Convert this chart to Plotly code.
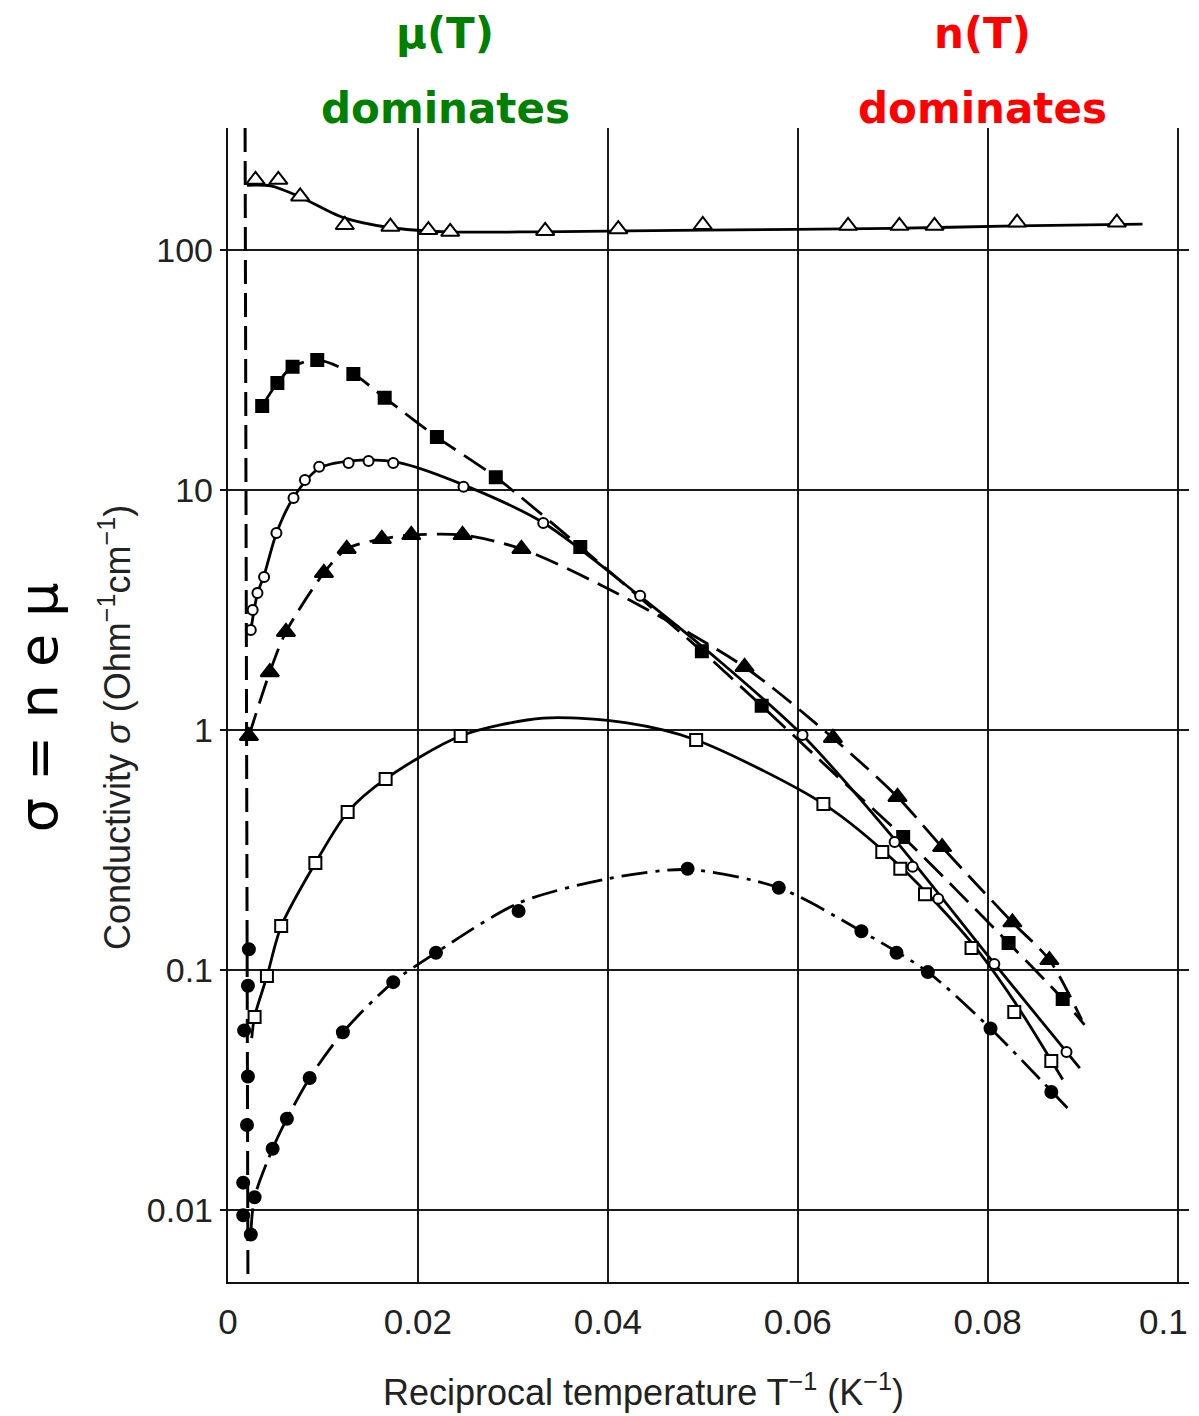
import plotly.graph_objects as go

# ---------------- data ----------------
# x = reciprocal temperature (1/K), y = conductivity (Ohm^-1 cm^-1)

# open triangles (solid line)
tri_open_x = [0.0029, 0.0053, 0.0076, 0.0123, 0.0171, 0.0211, 0.0234, 0.0334, 0.0411, 0.0500, 0.0653, 0.0707, 0.0744, 0.0831, 0.0936]
tri_open_y = [196, 196, 167, 127, 125, 121, 119, 120, 122, 127, 126, 126, 126, 130, 130]
tri_open_cx = [0.0020, 0.0045, 0.0075, 0.0120, 0.0170, 0.0230, 0.0330, 0.0500, 0.0700, 0.0830, 0.0963]
tri_open_cy = [186, 185, 167, 137, 124, 119, 119, 121, 123, 126, 128]

# filled squares (dashed line)
sq_fill_x = [0.0036, 0.0052, 0.0068, 0.0094, 0.0132, 0.0165, 0.0220, 0.0282, 0.0371, 0.0499, 0.0562, 0.0711, 0.0822, 0.0879]
sq_fill_y = [22.4, 27.9, 32.6, 34.8, 30.4, 24.2, 16.6, 11.3, 5.79, 2.13, 1.26, 0.358, 0.1296, 0.0757]
sq_fill_cx = [0.0036, 0.0052, 0.0068, 0.0094, 0.0132, 0.0165, 0.0220, 0.0282, 0.0371, 0.0499, 0.0562, 0.0640, 0.0711, 0.0822, 0.0879, 0.0902]
sq_fill_cy = [22.4, 27.9, 32.6, 34.8, 30.4, 24.2, 16.6, 11.3, 5.79, 2.13, 1.26, 0.65, 0.358, 0.1296, 0.0757, 0.059]

# open circles (solid line)
circ_open_x = [0.0024, 0.0026, 0.0031, 0.0038, 0.0051, 0.0069, 0.0081, 0.0096, 0.0127, 0.0148, 0.0174, 0.0248, 0.0332, 0.0434, 0.0605, 0.0702, 0.0721, 0.0748, 0.0807, 0.0883]
circ_open_y = [2.61, 3.16, 3.72, 4.34, 6.62, 9.26, 11.0, 12.5, 12.96, 13.2, 12.96, 10.3, 7.29, 3.62, 0.953, 0.341, 0.269, 0.198, 0.106, 0.0455]
circ_open_cx = [0.0024, 0.0031, 0.0038, 0.0051, 0.0069, 0.0096, 0.0140, 0.0180, 0.0248, 0.0332, 0.0434, 0.0520, 0.0605, 0.0702, 0.0800, 0.0897]
circ_open_cy = [2.6, 3.7, 4.4, 6.6, 9.3, 12.3, 13.3, 13.0, 10.5, 7.3, 3.6, 1.9, 0.95, 0.35, 0.115, 0.039]

# filled triangles (dashed line)
tri_fill_x = [0.0022, 0.0044, 0.0061, 0.0101, 0.0125, 0.0162, 0.0193, 0.0247, 0.0309, 0.0544, 0.0637, 0.0705, 0.0752, 0.0826, 0.0865]
tri_fill_y = [0.944, 1.74, 2.56, 4.51, 5.68, 6.25, 6.49, 6.49, 5.68, 1.83, 0.926, 0.526, 0.325, 0.158, 0.110]
tri_fill_cx = [0.0022, 0.0044, 0.0061, 0.0101, 0.0125, 0.0162, 0.0193, 0.0247, 0.0309, 0.0410, 0.0544, 0.0637, 0.0705, 0.0752, 0.0826, 0.0865, 0.0899]
tri_fill_cy = [0.944, 1.74, 2.56, 4.51, 5.68, 6.25, 6.49, 6.49, 5.68, 3.7, 1.83, 0.926, 0.526, 0.325, 0.158, 0.110, 0.062]

# open squares (solid line)
sq_open_x = [0.0028, 0.0041, 0.0056, 0.0092, 0.0126, 0.0166, 0.0245, 0.0493, 0.0627, 0.0689, 0.0708, 0.0734, 0.0783, 0.0828, 0.0867]
sq_open_y = [0.0637, 0.0944, 0.1525, 0.279, 0.455, 0.625, 0.944, 0.908, 0.492, 0.310, 0.264, 0.207, 0.1235, 0.0668, 0.0418]
sq_open_cx = [0.0025, 0.0028, 0.0041, 0.0056, 0.0092, 0.0126, 0.0166, 0.0245, 0.0332, 0.0420, 0.0493, 0.0627, 0.0708, 0.0783, 0.0828, 0.0879]
sq_open_cy = [0.052, 0.064, 0.094, 0.152, 0.279, 0.455, 0.625, 0.944, 1.12, 1.07, 0.908, 0.492, 0.27, 0.13, 0.074, 0.035]

# filled circles (dash-dot line)
circ_fill_x = [0.0022, 0.0021, 0.0017, 0.0021, 0.0020, 0.0016, 0.0016, 0.0024, 0.0028, 0.0047, 0.0062, 0.0086, 0.0121, 0.0174, 0.0219, 0.0306, 0.0484, 0.0580, 0.0667, 0.0704, 0.0737, 0.0803, 0.0867]
circ_fill_y = [0.122, 0.086, 0.056, 0.036, 0.0226, 0.013, 0.0095, 0.0079, 0.0113, 0.018, 0.024, 0.0355, 0.055, 0.089, 0.118, 0.176, 0.264, 0.220, 0.145, 0.118, 0.098, 0.057, 0.031]
circ_fill_cx = [0.0024, 0.0028, 0.0047, 0.0062, 0.0086, 0.0121, 0.0174, 0.0219, 0.0306, 0.0400, 0.0484, 0.0580, 0.0667, 0.0737, 0.0803, 0.0884]
circ_fill_cy = [0.0079, 0.0113, 0.018, 0.024, 0.0355, 0.055, 0.089, 0.118, 0.19, 0.24, 0.262, 0.220, 0.145, 0.098, 0.057, 0.0266]

# axes ticks (the last x label, "0.1", is placed a little inward so it is not cut at the page edge)
x_ticks = [0, 0.02, 0.04, 0.06, 0.08, 0.1]
x_tick_text = ["0", "0.02", "0.04", "0.06", "0.08", ""]
x_last_label = "0.1"
y_ticks = [0.01, 0.1, 1, 10, 100]
y_tick_text = ["0.01", "0.1", "1", "10", "100"]

# vertical dashed reference line position
vline_x_top = 0.0018
vline_x_bottom = 0.0021

# ---------------- figure ----------------
fig = go.Figure()

LW = 2.8
curves = [
    (tri_open_cx, tri_open_cy, "solid"),
    (sq_fill_cx, sq_fill_cy, "26px,10px"),
    (circ_open_cx, circ_open_cy, "solid"),
    (tri_fill_cx, tri_fill_cy, "24px,10px"),
    (sq_open_cx, sq_open_cy, "solid"),
    (circ_fill_cx, circ_fill_cy, "26px,8px,4px,8px"),
]
for cx, cy, dash in curves:
    fig.add_trace(go.Scatter(x=cx, y=cy, mode="lines",
                             line=dict(color="black", width=LW, dash=dash, shape="spline", smoothing=0.8),
                             hoverinfo="skip", showlegend=False))

markers = [
    (tri_open_x, tri_open_y, "triangle-up", "white", 16),
    (sq_fill_x, sq_fill_y, "square", "black", 12),
    (circ_open_x, circ_open_y, "circle", "white", 10),
    (tri_fill_x, tri_fill_y, "triangle-up", "black", 16),
    (sq_open_x, sq_open_y, "square", "white", 12),
    (circ_fill_x, circ_fill_y, "circle", "black", 12),
]
for mx, my, sym, fill, size in markers:
    fig.add_trace(go.Scatter(x=mx, y=my, mode="markers",
                             marker=dict(symbol=sym, color=fill, size=size,
                                         line=dict(color="black", width=2)),
                             showlegend=False))

# vertical dashed line
fig.add_shape(type="line", xref="x", yref="paper",
              x0=vline_x_top, y0=1, x1=vline_x_bottom, y1=0,
              line=dict(color="black", width=3, dash="24px,9px"), layer="above")

tick_font = dict(family="Liberation Sans, Arial, sans-serif", size=35, color="#222")
fig.update_xaxes(range=[0, 0.1012], tickvals=x_ticks, ticktext=x_tick_text,
                 showgrid=True, gridcolor="#1a1a1a", gridwidth=1.8,
                 showline=True, linecolor="#111", linewidth=2.4,
                 ticks="", ticklabelstandoff=8, zeroline=False,
                 automargin=False, tickfont=tick_font)
fig.update_yaxes(type="log", range=[-2.3, 2.508], tickvals=y_ticks, ticktext=y_tick_text,
                 showgrid=True, gridcolor="#1a1a1a", gridwidth=1.8,
                 showline=True, linecolor="#111", linewidth=2.4,
                 ticks="outside", ticklen=6, tickwidth=2, tickcolor="#111",
                 zeroline=False, automargin=False,
                 tickfont=dict(family="Liberation Sans, Arial, sans-serif", size=34, color="#222"))

# plot area: x from 228 to 1189 px, y from 128 to 1282 px
ann_font = dict(family="Liberation Sans, Arial, sans-serif", size=36, color="#222")
W = 961.0
annotations = [
    dict(text=x_last_label, x=x_ticks[-1], xref="x", xanchor="right", xshift=12,
         y=-0.0345, yref="paper", yanchor="middle", showarrow=False, font=tick_font),
    dict(text="Reciprocal temperature T<sup>−1</sup> (K<sup>−1</sup>)", x=(643 - 228) / W, y=-0.0936,
         xref="paper", yref="paper", xanchor="center", yanchor="middle", showarrow=False, font=ann_font),
    dict(text="Conductivity <i>σ</i> (Ohm<sup>−1</sup>cm<sup>−1</sup>)", x=(115 - 228) / W, y=0.48,
         xref="paper", yref="paper", xanchor="center", yanchor="middle", textangle=-90,
         showarrow=False, font=ann_font),
    dict(text="σ = n e μ", x=(38 - 228) / W, y=0.498, xref="paper", yref="paper",
         xanchor="center", yanchor="middle", textangle=-90, showarrow=False,
         font=dict(family="DejaVu Sans, sans-serif", size=54, color="black")),
    dict(text="<b>μ(T)</b>", x=(445 - 228) / W, y=1.0823, xref="paper", yref="paper",
         xanchor="center", yanchor="middle", showarrow=False,
         font=dict(family="DejaVu Sans, sans-serif", size=42, color="#008000")),
    dict(text="<b>dominates</b>", x=(445 - 228) / W, y=1.0173, xref="paper", yref="paper",
         xanchor="center", yanchor="middle", showarrow=False,
         font=dict(family="DejaVu Sans, sans-serif", size=42, color="#008000")),
    dict(text="<b>n(T)</b>", x=(982 - 228) / W, y=1.0823, xref="paper", yref="paper",
         xanchor="center", yanchor="middle", showarrow=False,
         font=dict(family="DejaVu Sans, sans-serif", size=42, color="#ff0000")),
    dict(text="<b>dominates</b>", x=(982 - 228) / W, y=1.0173, xref="paper", yref="paper",
         xanchor="center", yanchor="middle", showarrow=False,
         font=dict(family="DejaVu Sans, sans-serif", size=42, color="#ff0000")),
]

fig.update_layout(width=1199, height=1416,
                  margin=dict(l=228, r=10, t=128, b=134, pad=0),
                  plot_bgcolor="white", paper_bgcolor="white",
                  annotations=annotations, showlegend=False)

fig.write_html("out.html")
